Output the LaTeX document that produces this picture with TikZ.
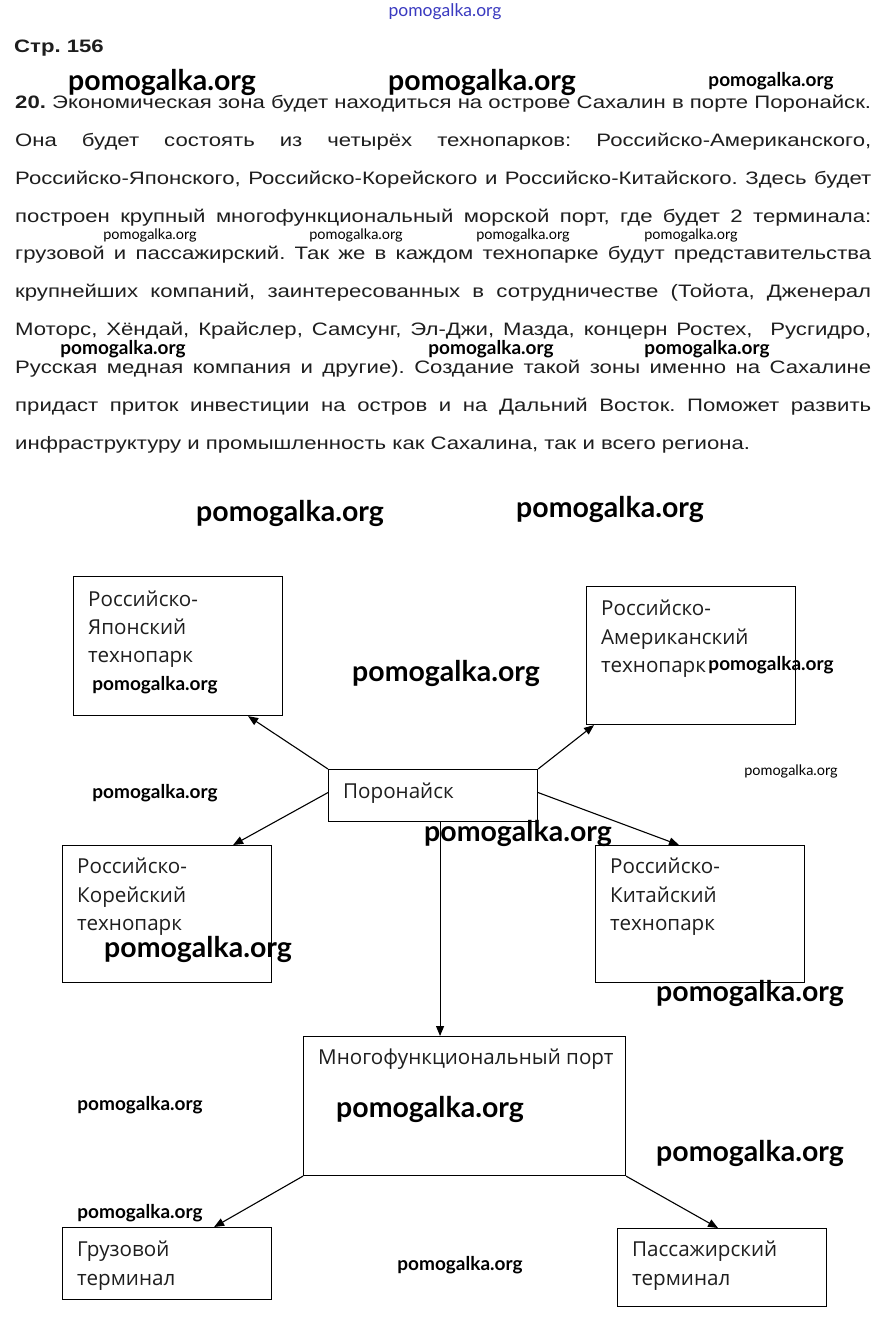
\documentclass[tikz,border=0pt]{standalone}
\usepackage{fontspec}
\usetikzlibrary{arrows.meta,calc}
\newfontfamily\bodyf[FakeStretch=1.23]{Liberation Sans}
\newfontfamily\boxf{Open Sans}
\newfontfamily\wmf{Lato}
\definecolor{ink}{HTML}{1E1E1E}
\definecolor{wmblue}{HTML}{3A3AC0}
\tikzset{
  txt/.style={anchor=base west, inner sep=0pt, text=ink, font=\bodyf\fontsize{18}{20}\selectfont},
  boxx/.style={draw=black, line width=1.1pt, fill=white, anchor=north west, inner sep=0pt},
  lbl/.style={anchor=base west, inner sep=0pt, text=ink, font=\boxf\fontsize{20.6}{24}\selectfont},
  arr/.style={draw=black, line width=1.1pt, -{Triangle[length=10pt,width=8pt]}},
  wmL/.style={inner sep=0pt, text=black, font=\wmf\bfseries\fontsize{28.5}{30}\selectfont},
  wmM/.style={inner sep=0pt, text=black, font=\wmf\bfseries\fontsize{19}{21}\selectfont},
  wmS/.style={inner sep=0pt, text=black, font=\wmf\fontsize{14.5}{16}\selectfont},
  wmB/.style={inner sep=0pt, text=wmblue, font=\wmf\fontsize{17.5}{19}\selectfont}
}
\newcommand{\jl}[1]{\makebox[856pt][s]{#1}}
\begin{document}
\frenchspacing
\begin{tikzpicture}[x=1pt,y=-1pt]
\useasboundingbox[fill=white] (0,0) rectangle (889,1323);

% header
\node[txt, font=\bodyf\bfseries\fontsize{18}{20}\selectfont] (hdr) at (14,52) {Стр. 156};

% body text
\node[txt] (t1) at (15,108) {\jl{\textbf{20.} Экономическая зона будет находиться на острове Сахалин в порте Поронайск.}};
\node[txt] (t2) at (15,146) {\jl{Она будет состоять из четырёх технопарков: Российско-Американского,}};
\node[txt] (t3) at (15,184) {\jl{Российско-Японского, Российско-Корейского и Российско-Китайского. Здесь будет}};
\node[txt] (t4) at (15,222) {\jl{построен крупный многофункциональный морской порт, где будет 2 терминала:}};
\node[txt] (t5) at (15,259) {\jl{грузовой и пассажирский. Так же в каждом технопарке будут представительства}};
\node[txt] (t6) at (15,297) {\jl{крупнейших компаний, заинтересованных в сотрудничестве (Тойота, Дженерал}};
\node[txt] (t7) at (15,335) {\jl{Моторс, Хёндай, Крайслер, Самсунг, Эл-Джи, Мазда, концерн Ростех,\ \ Русгидро,}};
\node[txt] (t8) at (15,373) {\jl{Русская медная компания и другие). Создание такой зоны именно на Сахалине}};
\node[txt] (t9) at (15,411) {\jl{придаст приток инвестиции на остров и на Дальний Восток. Поможет развить}};
\node[txt] (t10) at (15,449) {инфраструктуру и промышленность как Сахалина, так и всего региона.};

% boxes
\node[boxx, minimum width=209pt, minimum height=139pt] (jp) at (73,576) {};
\node[boxx, minimum width=209pt, minimum height=138pt] (am) at (586,586) {};
\node[boxx, minimum width=209pt, minimum height=52pt] (por) at (328,769) {};
\node[boxx, minimum width=209pt, minimum height=137pt] (kr) at (62,845) {};
\node[boxx, minimum width=209pt, minimum height=137pt] (cn) at (595,845) {};
\node[boxx, minimum width=322pt, minimum height=139pt] (port) at (303,1036) {};
\node[boxx, minimum width=209pt, minimum height=72pt] (cg) at (62,1227) {};
\node[boxx, minimum width=209pt, minimum height=78pt] (ps) at (617,1228) {};

% labels
\node[lbl] (jp1) at (88,606) {Российско-};
\node[lbl] (jp2) at (88,634) {Японский};
\node[lbl] (jp3) at (88,662) {технопарк};
\node[lbl] (am1) at (601,615) {Российско-};
\node[lbl] (am2) at (601,644) {Американский};
\node[lbl] (am3) at (601,672) {технопарк};
\node[lbl] (por1) at (343,798) {Поронайск};
\node[lbl] (kr1) at (77,873) {Российско-};
\node[lbl] (kr2) at (77,902) {Корейский};
\node[lbl] (kr3) at (77,930) {технопарк};
\node[lbl] (cn1) at (610,873) {Российско-};
\node[lbl] (cn2) at (610,902) {Китайский};
\node[lbl] (cn3) at (610,930) {технопарк};
\node[lbl] (port1) at (318,1064) {Многофункциональный порт};
\node[lbl] (cg1) at (77,1256) {Грузовой};
\node[lbl] (cg2) at (77,1285) {терминал};
\node[lbl] (ps1) at (632,1256) {Пассажирский};
\node[lbl] (ps2) at (632,1285) {терминал};

% connectors
\coordinate (pd) at ($(por.south)+(7,0)$);
\draw[arr] (por.north west) -- ($(jp.south east)+(-35,0)$);
\draw[arr] ($(por.west)+(0,-3)$) -- ($(kr.north east)+(-39,0)$);
\draw[arr] (por.north east) -- ($(am.south west)+(8,0)$);
\draw[arr] ($(por.east)+(0,-3)$) -- ($(cn.north west)+(84,0)$);
\draw[arr] (pd) -- (pd |- port.north);
\draw[arr] (port.south west) -- ($(cg.north east)+(-58,0)$);
\draw[arr] (port.south east) -- ($(ps.north west)+(101,0)$);

% watermarks
\node[wmB] (w0) at (445,12) {pomogalka.org};
\node[wmL] (w1) at (162,82) {pomogalka.org};
\node[wmL] (w2) at (482,82) {pomogalka.org};
\node[wmM] (w3) at (771,81) {pomogalka.org};
\node[wmS] (w4) at (150,235) {pomogalka.org};
\node[wmS] (w5) at (356,235) {pomogalka.org};
\node[wmS] (w6) at (523,235) {pomogalka.org};
\node[wmS] (w7) at (691,235) {pomogalka.org};
\node[wmM] (w8) at (123,349) {pomogalka.org};
\node[wmM] (w9) at (491,349) {pomogalka.org};
\node[wmM] (w10) at (707,349) {pomogalka.org};
\node[wmL] (w11) at (290,513) {pomogalka.org};
\node[wmL] (w12) at (610,509) {pomogalka.org};
\node[wmL] (w13) at (446,673) {pomogalka.org};
\node[wmM] (w14) at (155,685) {pomogalka.org};
\node[wmM] (w15) at (771,665) {pomogalka.org};
\node[wmM] (w16) at (155,793) {pomogalka.org};
\node[wmS] (w17) at (791,771) {pomogalka.org};
\node[wmL] (w18) at (518,833) {pomogalka.org};
\node[wmL] (w19) at (198,949) {pomogalka.org};
\node[wmL] (w20) at (750,993) {pomogalka.org};
\node[wmM] (w21) at (140,1105) {pomogalka.org};
\node[wmL] (w22) at (430,1109) {pomogalka.org};
\node[wmL] (w23) at (750,1153) {pomogalka.org};
\node[wmM] (w24) at (140,1213) {pomogalka.org};
\node[wmM] (w25) at (460,1265) {pomogalka.org};
\end{tikzpicture}
\end{document}
